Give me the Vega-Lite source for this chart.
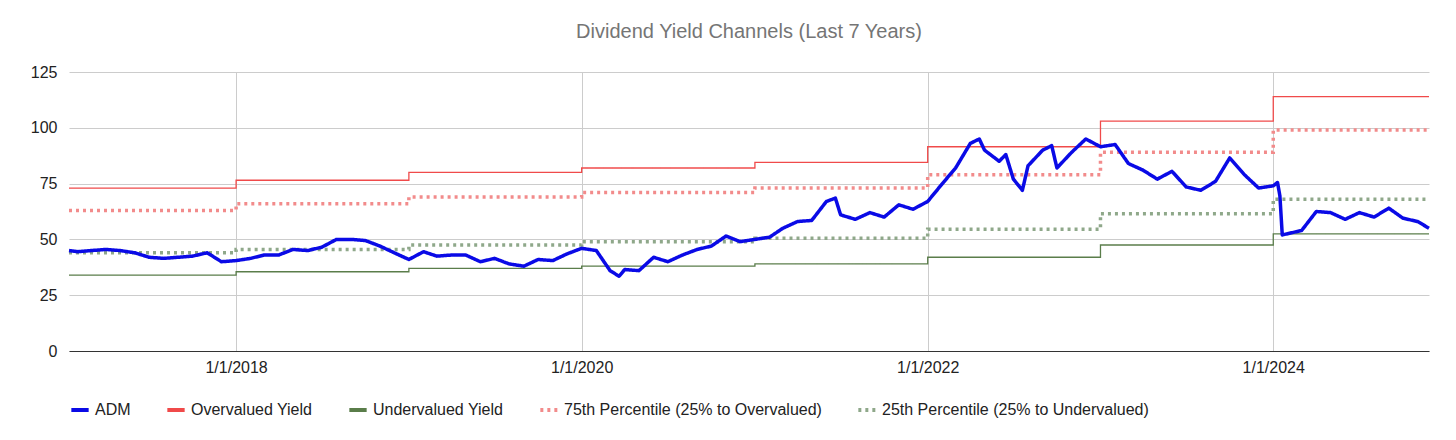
{
  "$schema": "https://vega.github.io/schema/vega-lite/v6.json",
  "width": 1456,
  "height": 440,
  "autosize": {"type": "fit", "contains": "padding"},
  "padding": {"left": 30, "right": 20, "top": 22, "bottom": 22},
  "config": {"font": "Liberation Sans", "view": {"stroke": null}},
  "title": {"text": "Dividend Yield Channels (Last 7 Years)", "fontSize": 20, "fontWeight": "normal", "color": "#757575", "offset": 22},
  "datasets": {
    "adm": [
      {"date": "2017-01-13", "value": 45}, {"date": "2017-02-01", "value": 44.5}, {"date": "2017-03-01", "value": 45},
      {"date": "2017-04-01", "value": 45.5}, {"date": "2017-05-01", "value": 45}, {"date": "2017-06-01", "value": 44},
      {"date": "2017-07-01", "value": 42}, {"date": "2017-08-01", "value": 41.5}, {"date": "2017-09-01", "value": 42},
      {"date": "2017-10-01", "value": 42.5}, {"date": "2017-11-01", "value": 44}, {"date": "2017-12-01", "value": 40},
      {"date": "2018-01-01", "value": 40.5}, {"date": "2018-02-01", "value": 41.5}, {"date": "2018-03-01", "value": 43},
      {"date": "2018-04-01", "value": 43}, {"date": "2018-05-01", "value": 45.5}, {"date": "2018-06-01", "value": 45},
      {"date": "2018-07-01", "value": 46.5}, {"date": "2018-08-01", "value": 50}, {"date": "2018-09-01", "value": 50},
      {"date": "2018-10-01", "value": 49.5}, {"date": "2018-11-01", "value": 47}, {"date": "2018-12-01", "value": 44},
      {"date": "2019-01-01", "value": 41}, {"date": "2019-02-01", "value": 44.5}, {"date": "2019-03-01", "value": 42.5},
      {"date": "2019-04-01", "value": 43}, {"date": "2019-05-01", "value": 43}, {"date": "2019-06-01", "value": 40},
      {"date": "2019-07-01", "value": 41.5}, {"date": "2019-08-01", "value": 39}, {"date": "2019-09-01", "value": 38},
      {"date": "2019-10-01", "value": 41}, {"date": "2019-11-01", "value": 40.5}, {"date": "2019-12-01", "value": 43.5},
      {"date": "2020-01-01", "value": 46}, {"date": "2020-02-01", "value": 45}, {"date": "2020-03-01", "value": 36},
      {"date": "2020-03-20", "value": 33.5}, {"date": "2020-04-01", "value": 36.5}, {"date": "2020-05-01", "value": 36},
      {"date": "2020-06-01", "value": 42}, {"date": "2020-07-01", "value": 40}, {"date": "2020-08-01", "value": 43},
      {"date": "2020-09-01", "value": 45.5}, {"date": "2020-10-01", "value": 47}, {"date": "2020-11-01", "value": 51.5},
      {"date": "2020-12-01", "value": 49}, {"date": "2021-01-01", "value": 50}, {"date": "2021-02-01", "value": 51},
      {"date": "2021-03-01", "value": 55}, {"date": "2021-04-01", "value": 58}, {"date": "2021-05-01", "value": 58.5},
      {"date": "2021-06-01", "value": 67}, {"date": "2021-06-20", "value": 68.5}, {"date": "2021-07-01", "value": 61},
      {"date": "2021-08-01", "value": 59}, {"date": "2021-09-01", "value": 62}, {"date": "2021-10-01", "value": 60},
      {"date": "2021-11-01", "value": 65.5}, {"date": "2021-12-01", "value": 63.5}, {"date": "2022-01-01", "value": 67},
      {"date": "2022-02-01", "value": 75}, {"date": "2022-03-01", "value": 82}, {"date": "2022-04-01", "value": 93},
      {"date": "2022-04-20", "value": 95}, {"date": "2022-05-01", "value": 90}, {"date": "2022-06-01", "value": 85},
      {"date": "2022-06-15", "value": 88}, {"date": "2022-07-01", "value": 77}, {"date": "2022-07-20", "value": 72},
      {"date": "2022-08-01", "value": 83}, {"date": "2022-09-01", "value": 90}, {"date": "2022-09-20", "value": 92},
      {"date": "2022-10-01", "value": 82}, {"date": "2022-11-01", "value": 89}, {"date": "2022-12-01", "value": 95},
      {"date": "2023-01-01", "value": 91.5}, {"date": "2023-02-01", "value": 92.5}, {"date": "2023-03-01", "value": 84},
      {"date": "2023-04-01", "value": 81}, {"date": "2023-05-01", "value": 77}, {"date": "2023-06-01", "value": 80.5},
      {"date": "2023-07-01", "value": 73.5}, {"date": "2023-08-01", "value": 72}, {"date": "2023-09-01", "value": 76},
      {"date": "2023-10-01", "value": 86.5}, {"date": "2023-11-01", "value": 79}, {"date": "2023-12-01", "value": 73},
      {"date": "2024-01-01", "value": 74}, {"date": "2024-01-10", "value": 75.5}, {"date": "2024-01-15", "value": 69.5},
      {"date": "2024-01-20", "value": 52}, {"date": "2024-03-01", "value": 54}, {"date": "2024-04-01", "value": 62.5},
      {"date": "2024-05-01", "value": 62}, {"date": "2024-06-01", "value": 59}, {"date": "2024-07-01", "value": 62},
      {"date": "2024-08-01", "value": 60}, {"date": "2024-09-01", "value": 64}, {"date": "2024-10-01", "value": 59.5},
      {"date": "2024-11-01", "value": 58}, {"date": "2024-11-25", "value": 55}
    ],
    "bands": [
      {"date": "2017-01-13", "over": 73, "p75": 63, "under": 34, "p25": 44},
      {"date": "2018-01-01", "over": 76.5, "p75": 66, "under": 35.5, "p25": 45.5},
      {"date": "2019-01-01", "over": 80, "p75": 69, "under": 37, "p25": 47.5},
      {"date": "2020-01-01", "over": 82, "p75": 71, "under": 38, "p25": 49},
      {"date": "2021-01-01", "over": 84.5, "p75": 73, "under": 39, "p25": 50.5},
      {"date": "2022-01-01", "over": 91.5, "p75": 79, "under": 42, "p25": 54.5},
      {"date": "2023-01-01", "over": 103, "p75": 89, "under": 47.5, "p25": 61.5},
      {"date": "2024-01-01", "over": 114, "p75": 99, "under": 52.5, "p25": 68},
      {"date": "2024-11-25", "over": 114, "p75": 99, "under": 52.5, "p25": 68}
    ]
  },
  "encoding": {
    "x": {
      "field": "date", "type": "temporal", "title": null,
      "scale": {"domain": ["2017-01-13", "2024-11-25"]},
      "axis": {"values": ["2018-01-01T00:00:00", "2020-01-01T00:00:00", "2022-01-01T00:00:00", "2024-01-01T00:00:00"], "format": "%-m/%-d/%Y", "labelFontSize": 16, "labelColor": "#222", "domainColor": "#333", "ticks": false, "gridColor": "#ccc", "labelPadding": 8}
    },
    "y": {
      "field": "value", "type": "quantitative", "title": null,
      "scale": {"domain": [0, 125]},
      "axis": {"values": [0, 25, 50, 75, 100, 125], "labelFontSize": 16, "labelColor": "#222", "domain": false, "ticks": false, "gridColor": "#ccc", "labelPadding": 12}
    },
    "color": {
      "field": "series", "type": "nominal", "title": null,
      "scale": {
        "domain": ["ADM", "Overvalued Yield", "Undervalued Yield", "75th Percentile (25% to Overvalued)", "25th Percentile (25% to Undervalued)"],
        "range": ["#0a0ae6", "#f04a4a", "#5a7d4a", "#f28b8b", "#8fa88a"]
      },
      "legend": {"orient": "bottom", "direction": "horizontal", "labelFontSize": 16, "labelColor": "#222", "labelLimit": 0, "symbolType": "stroke", "symbolSize": 300, "symbolStrokeWidth": 4, "columnPadding": 28, "offset": 24}
    },
    "strokeDash": {
      "field": "series", "type": "nominal",
      "scale": {
        "domain": ["ADM", "Overvalued Yield", "Undervalued Yield", "75th Percentile (25% to Overvalued)", "25th Percentile (25% to Undervalued)"],
        "range": [[1, 0], [1, 0], [1, 0], [3, 4], [3, 4]]
      },
      "legend": null
    }
  },
  "layer": [
    {
      "data": {"name": "bands"},
      "transform": [
        {"fold": ["over", "under"], "as": ["key", "value"]},
        {"calculate": "datum.key == 'over' ? 'Overvalued Yield' : 'Undervalued Yield'", "as": "series"}
      ],
      "mark": {"type": "line", "interpolate": "step-after", "strokeWidth": 1.3}
    },
    {
      "data": {"name": "bands"},
      "transform": [
        {"fold": ["p75", "p25"], "as": ["key", "value"]},
        {"calculate": "datum.key == 'p75' ? '75th Percentile (25% to Overvalued)' : '25th Percentile (25% to Undervalued)'", "as": "series"}
      ],
      "mark": {"type": "line", "interpolate": "step-after", "strokeWidth": 3.5}
    },
    {
      "data": {"name": "adm"},
      "transform": [{"calculate": "'ADM'", "as": "series"}],
      "mark": {"type": "line", "strokeJoin": "round", "strokeWidth": 3.5}
    }
  ]
}
